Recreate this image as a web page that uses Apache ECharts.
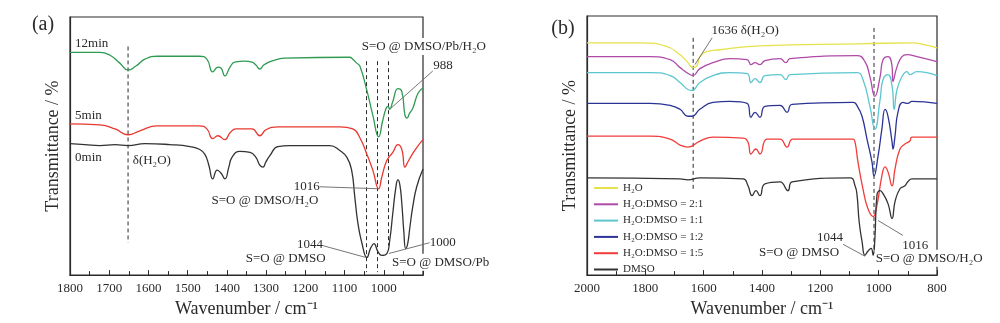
<!DOCTYPE html>
<html><head><meta charset="utf-8">
<script src="https://cdn.jsdelivr.net/npm/echarts@6/dist/echarts.min.js"></script>
<style>html,body{margin:0;padding:0;background:#fff}#c{width:1000px;height:323px}</style>
</head><body><div id="c"></div>
<script>
// ---------- DATA (wavenumber cm-1, relative transmittance with vertical offsets) ----------
// Panel (a)
const a12min = [[1800,227],[1724,227],[1698,224],[1673,216],[1652,209],[1632,213],[1609,220],[1578,223],[1469,223],[1451,220],[1436,207],[1423,212],[1415,211],[1405,203],[1392,212],[1380,217],[1354,218],[1336,217],[1326,214],[1316,210],[1306,214],[1293,217],[1278,219],[1252,221],[1087,222],[1079,220],[1069,216],[1061,213],[1043,188],[1028,163],[1013,141],[1003,157],[994,170],[989,172],[985,169],[977,177],[964,190],[954,187],[946,163],[941,160],[934,165],[926,170],[913,185],[900,191]];
const a5min = [[1800,154],[1724,153],[1685,149],[1652,143],[1622,147],[1578,152],[1469,152],[1451,149],[1436,139],[1423,142],[1405,138],[1392,145],[1377,149],[1336,149],[1316,142],[1301,148],[1270,151],[1112,151],[1079,149],[1061,140],[1043,123],[1028,107],[1013,88],[1005,100],[992,117],[977,125],[964,133],[954,128],[946,110],[939,115],[929,122],[916,130],[900,138]];
const a0min = [[1800,134],[1762,133],[1724,132],[1685,133],[1652,132],[1609,134],[1545,133],[1494,131],[1469,128],[1456,123],[1446,112],[1436,98],[1425,107],[1415,104],[1405,98],[1395,110],[1387,120],[1367,126],[1341,125],[1326,120],[1316,112],[1308,110],[1301,115],[1290,122],[1270,131],[1239,132],[1138,132],[1112,127],[1094,120],[1082,107],[1074,80],[1066,53],[1056,33],[1043,18],[1033,28],[1025,32],[1015,24],[1005,20],[992,22],[985,35],[977,63],[969,90],[964,97],[959,92],[954,73],[949,45],[944,27],[939,32],[934,47],[926,70],[916,90],[900,108]];
const dashA = [[1652,233,33],[1044,218,3],[1016,218,3],[988,218,30]]; // [wavenumber, from, to]

// Panel (b)
const bH2O = [[2000,234],[1818,234],[1733,231],[1681,222],[1654,214],[1637,209],[1623,211],[1613,220],[1589,225],[1544,227],[1407,231],[1064,233],[882,234],[841,232],[800,229]];
const b21 = [[2000,220],[1784,220],[1715,217],[1681,209],[1647,202],[1637,201],[1613,208],[1568,214],[1510,218],[1451,217],[1438,212],[1424,214],[1407,212],[1390,216],[1338,218],[1318,214],[1304,218],[1074,221],[1047,215],[1030,200],[1013,180],[995,200],[985,217],[968,220],[954,210],[951,195],[937,210],[920,220],[903,222],[869,220],[800,215]];
const b11 = [[2000,204],[1784,204],[1715,201],[1681,194],[1654,187],[1640,186],[1613,194],[1568,201],[1510,204],[1451,203],[1438,194],[1424,198],[1407,194],[1390,201],[1338,202],[1318,197],[1304,202],[1074,204],[1054,197],[1030,170],[1013,147],[995,177],[985,197],[968,202],[954,190],[947,167],[937,187],[920,200],[903,205],[893,202],[869,205],[800,201]];
const b12 = [[2000,173],[1784,173],[1715,171],[1681,167],[1654,160],[1640,160],[1613,167],[1568,174],[1510,175],[1451,173],[1438,159],[1424,164],[1407,159],[1390,170],[1338,171],[1314,164],[1297,172],[1088,174],[1071,169],[1057,160],[1040,137],[1023,114],[1016,100],[1002,120],[989,147],[978,167],[968,160],[954,134],[951,127],[944,140],[934,164],[917,174],[900,173],[886,175],[800,173]];
const b15 = [[2000,140],[1784,140],[1715,137],[1681,131],[1654,129],[1613,135],[1568,139],[1465,138],[1448,134],[1438,122],[1421,127],[1407,122],[1383,137],[1338,137],[1314,129],[1294,137],[1088,137],[1081,134],[1071,114],[1054,87],[1037,67],[1019,59],[1006,70],[989,100],[978,109],[968,104],[954,90],[944,107],[927,127],[910,132],[893,135],[886,139],[800,139]];
const bDMSO = [[2000,98],[1681,97],[1654,96],[1613,98],[1465,97],[1448,90],[1434,80],[1421,85],[1407,80],[1390,92],[1338,94],[1311,85],[1297,94],[1098,98],[1081,90],[1074,80],[1067,54],[1057,34],[1047,20],[1037,24],[1026,27],[1019,20],[1013,37],[1006,80],[995,85],[985,82],[968,72],[954,57],[944,74],[927,87],[910,90],[900,94],[886,97],[800,97]];
const dashB = [[1636,239,86],[1016,249,22]];
const legendNames = ['H₂O','H₂O:DMSO = 2:1','H₂O:DMSO = 1:1','H₂O:DMSO = 1:2','H₂O:DMSO = 1:5','DMSO'];

// Annotations: [text, wavenumber, value]
const textA = [['12min',1787,236,'left'],['5min',1787,163,'left'],['0min',1787,120,'left'],['δ(H₂O)',1640,117,'left'],
  ['S=O @ DMSO/H₂O',1303,76,'center'],['1016',1163,90,'right'],['1044',1155,31,'right'],['S=O @ DMSO',1250,17,'center'],
  ['1000',883,33,'left'],['988',874,213,'left']];
const boxedA = [['S=O @ DMSO/Pb/H₂O',898,233],['S=O @ DMSO/Pb',855,13]];
const leadA = [[1163,90,1015,88],[1155,30,1046,18],[883,33,987,22],[875,208,982,170]];
const textB = [['1636 δ(H₂O)',1573,246,'left'],['1044',1122,38,'right'],['S=O @ DMSO',1273,23,'center'],['1016',875,30,'center']];
const boxedB = [['S=O @ DMSO/H₂O',827,17]];
const leadB = [[1571,239,1630,212],[1122,31,1047,19],[1002,55,917,40]];

// ---------- CHART ----------
const FONT = '"Liberation Serif","Times New Roman",serif';
const INK = '#2a2a2a';
const chart = echarts.init(document.getElementById('c'), null, {renderer:'canvas'});

function xAxisCfg(idx, min, max, interval, hideMin){
  return {type:'value', gridIndex:idx, inverse:true, min, max, interval,
    name:'Wavenumber / cm⁻¹', nameLocation:'middle', nameGap:19,
    nameTextStyle:{fontFamily:FONT, fontSize:18, color:INK},
    axisLine:{lineStyle:{color:INK, width:1.2}},
    axisTick:{inside:true, length:5, lineStyle:{color:INK}},
    minorTick:{show:true, splitNumber:2, length:4, lineStyle:{color:INK}},
    axisLabel:{fontFamily:FONT, fontSize:13, color:INK, margin:7, showMinLabel:!hideMin, formatter:v=>String(v)},
    splitLine:{show:false}};
}
function yAxisCfg(idx, max){
  return {type:'value', gridIndex:idx, min:0, max,
    name:'Transmittance / %', nameLocation:'middle', nameGap:8,
    nameTextStyle:{fontFamily:FONT, fontSize:18, color:INK},
    axisLine:{show:true, lineStyle:{color:INK, width:1.2}},
    axisTick:{show:false}, axisLabel:{show:false}, splitLine:{show:false}};
}
function curve(name, data, color, xi){
  return {name, type:'line', xAxisIndex:xi, yAxisIndex:xi, data, showSymbol:false, symbol:'none',
    smooth:0.5, lineStyle:{color, width:1.3}, itemStyle:{color}, z:3, silent:true};
}
function dashes(list, xi){
  return list.map(d => ({type:'line', xAxisIndex:xi, yAxisIndex:xi, data:[[d[0],d[1]],[d[0],d[2]]],
    showSymbol:false, symbol:'none', lineStyle:{color:INK, width:1, type:[4,3]}, z:2, silent:true}));
}

const colB = ['#e6e24a','#b04aa8','#5cc6d0','#2b3496','#f03c3a','#333333'];
const dataB = [bH2O,b21,b11,b12,b15,bDMSO];

chart.setOption({
  animation:false,
  grid:[
    {left:70, top:17, width:353, height:263, show:true, borderColor:INK, borderWidth:1.2, containLabel:false},
    {left:587, top:16, width:350, height:261, show:true, borderColor:INK, borderWidth:1.2, containLabel:false}
  ],
  xAxis:[xAxisCfg(0,900,1800,100,true), xAxisCfg(1,800,2000,200,false)],
  yAxis:[yAxisCfg(0,263), yAxisCfg(1,261)],
  legend:{data:legendNames, orient:'vertical', left:589, top:177, icon:'rect', itemWidth:24, itemHeight:2,
    itemGap:4.3, textStyle:{fontFamily:FONT, fontSize:11, color:INK, lineHeight:12}, selectedMode:false},
  series:[
    curve('12min', a12min, '#2f9a52', 0),
    curve('5min', a5min, '#e8382f', 0),
    curve('0min', a0min, '#333333', 0),
    ...dashes(dashA, 0),
    ...legendNames.map((n,i)=>curve(n, dataB[i], colB[i], 1)),
    ...dashes(dashB, 1)
  ]
});

const g = [];
function addTexts(list, gi){
  list.forEach(t => {
    const p = chart.convertToPixel({gridIndex:gi}, [t[1], t[2]]);
    g.push({type:'text', x:p[0], y:p[1], z:10, style:{text:t[0], fontFamily:FONT, fontSize:13, fill:INK, align:t[3], verticalAlign:'middle'}});
  });
}
function addBoxed(list, gi){
  list.forEach(t => {
    const p = chart.convertToPixel({gridIndex:gi}, [t[1], t[2]]);
    g.push({type:'text', x:p[0], y:p[1], z:10, style:{text:t[0], fontFamily:FONT, fontSize:13, fill:INK, align:'center', verticalAlign:'middle', backgroundColor:'#fff', padding:[2,1]}});
  });
}
function addLeads(list, gi){
  list.forEach(l => {
    const p1 = chart.convertToPixel({gridIndex:gi}, [l[0], l[1]]);
    const p2 = chart.convertToPixel({gridIndex:gi}, [l[2], l[3]]);
    g.push({type:'line', z:9, shape:{x1:p1[0], y1:p1[1], x2:p2[0], y2:p2[1]}, style:{stroke:'#666', lineWidth:0.9}});
  });
}
addTexts(textA,0); addBoxed(boxedA,0); addLeads(leadA,0);
addTexts(textB,1); addBoxed(boxedB,1); addLeads(leadB,1);
g.push({type:'text', x:43, y:25, z:10, style:{text:'(a)', fontFamily:FONT, fontSize:20, fill:INK, align:'center', verticalAlign:'middle'}});
g.push({type:'text', x:563, y:29, z:10, style:{text:'(b)', fontFamily:FONT, fontSize:20, fill:INK, align:'center', verticalAlign:'middle'}});
chart.setOption({graphic:g});
</script></body></html>
